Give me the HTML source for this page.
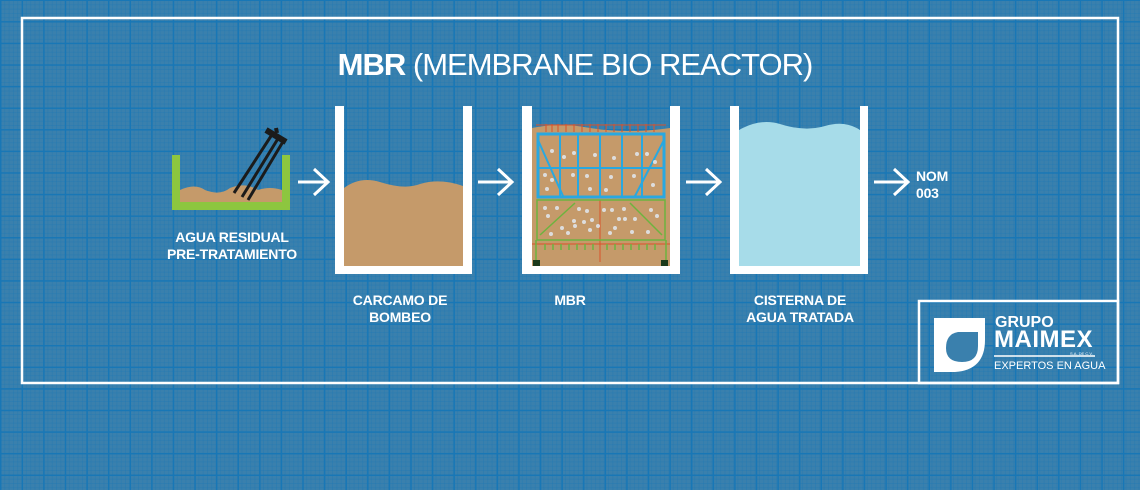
<!DOCTYPE html>
<html><head><meta charset="utf-8"><style>
body{margin:0}
#c{width:1140px;height:490px;position:relative;overflow:hidden;background-color:#3a80ad;
background-image:linear-gradient(#1877b6 1.5px,transparent 1.5px),linear-gradient(90deg,#1877b6 1.5px,transparent 1.5px),linear-gradient(rgba(30,120,180,.35) 1px,transparent 1px),linear-gradient(90deg,rgba(30,120,180,.35) 1px,transparent 1px);
background-size:21.6px 21.6px,21.6px 21.6px,4.32px 4.32px,4.32px 4.32px;background-position:0 -0.5px,0 0,0 0,0 0;
font-family:"Liberation Sans",sans-serif;color:#fff}
.t{position:absolute;font-weight:bold;font-size:14px;text-align:center;line-height:17px;letter-spacing:-0.2px}
</style></head><body><div id="c">
<svg width="1140" height="490" style="position:absolute;left:0;top:0">
<rect x="22" y="18" width="1096" height="365" fill="none" stroke="#fff" stroke-width="2.5"/>
<rect x="919" y="301" width="199" height="82" fill="none" stroke="#fff" stroke-width="2.5"/>
<path d="M180 190 Q195 183 205 190 Q220 196 230 188 Q245 182 258 190 Q270 186 282 190 L282 202 L180 202Z" fill="#c59a6a"/>
<path d="M172 155 H180 V202 H282 V155 H290 V210 H172Z" fill="#8dc63f"/>
<g stroke="#1b1b1b" stroke-width="3"><line x1="273" y1="133" x2="234" y2="193"/><line x1="279" y1="137" x2="242" y2="197"/><line x1="284" y1="140" x2="248" y2="200"/><line x1="266" y1="130" x2="286" y2="142" stroke-width="6"/><line x1="276" y1="128" x2="277" y2="133" stroke-width="4"/></g>
<path d="M344 188 Q360 176 380 182 Q405 190 420 184 Q440 178 463 186 V266 H344Z" fill="#c59a6a"/>
<path d="M335 106 H344 V266 H463 V106 H472 V274 H335Z" fill="#fff"/>
<path d="M532 128 Q560 122 590 128 Q630 134 670 128 V266 H532Z" fill="#c59a6a"/>
<g stroke="#d9532a" stroke-width="1"><line x1="536" y1="125" x2="666" y2="125"/><line x1="532" y1="244" x2="670" y2="244"/><line x1="600" y1="200" x2="600" y2="262"/></g>
<g stroke="#d9532a"><path d="M546 124v8M552 124v8M558 124v8M566 124v8M574 124v8M582 124v8M590 124v8M598 124v8M606 124v8M614 124v8M622 124v8M630 124v8M638 124v8M646 124v8M654 124v8"/></g>
<g fill="none" stroke="#29a8e0" stroke-width="2"><rect x="538" y="134" width="126" height="63" stroke-width="3"/><line x1="538" y1="168" x2="664" y2="168"/><path d="M560 134v63M578 134v63M600 134v63M622 134v63M642 134v63"/><path d="M538 140 L563 196M664 140 L635 196"/></g>
<g fill="none" stroke="#6db33f" stroke-width="1.5"><rect x="537" y="200" width="128" height="40"/><path d="M540 235 L575 203M662 235 L630 203"/><path d="M536 240v26M666 240v26"/><path d="M545 244v6M553 244v6M561 244v6M569 244v6M577 244v6M585 244v6M593 244v6M607 244v6M615 244v6M623 244v6M631 244v6M639 244v6M647 244v6M655 244v6"/></g>
<g fill="#ddd"><circle cx="552" cy="151" r="2"/><circle cx="564" cy="157" r="2"/><circle cx="574" cy="153" r="2"/><circle cx="595" cy="155" r="2"/><circle cx="614" cy="158" r="2"/><circle cx="637" cy="154" r="2"/><circle cx="647" cy="154" r="2"/><circle cx="655" cy="162" r="2"/><circle cx="545" cy="175" r="2"/><circle cx="552" cy="180" r="2"/><circle cx="573" cy="175" r="2"/><circle cx="587" cy="176" r="2"/><circle cx="611" cy="177" r="2"/><circle cx="634" cy="176" r="2"/><circle cx="547" cy="189" r="2"/><circle cx="590" cy="189" r="2"/><circle cx="606" cy="190" r="2"/><circle cx="653" cy="185" r="2"/><circle cx="545" cy="208" r="2"/><circle cx="557" cy="208" r="2"/><circle cx="579" cy="209" r="2"/><circle cx="587" cy="211" r="2"/><circle cx="604" cy="210" r="2"/><circle cx="612" cy="210" r="2"/><circle cx="624" cy="209" r="2"/><circle cx="651" cy="210" r="2"/><circle cx="548" cy="216" r="2"/><circle cx="574" cy="221" r="2"/><circle cx="584" cy="222" r="2"/><circle cx="592" cy="220" r="2"/><circle cx="619" cy="219" r="2"/><circle cx="625" cy="219" r="2"/><circle cx="635" cy="219" r="2"/><circle cx="657" cy="216" r="2"/><circle cx="562" cy="228" r="2"/><circle cx="575" cy="226" r="2"/><circle cx="598" cy="226" r="2"/><circle cx="615" cy="228" r="2"/><circle cx="551" cy="234" r="2"/><circle cx="568" cy="233" r="2"/><circle cx="590" cy="230" r="2"/><circle cx="610" cy="233" r="2"/><circle cx="632" cy="232" r="2"/><circle cx="648" cy="232" r="2"/></g>
<rect x="533" y="260" width="7" height="6" fill="#1b3a1b"/><rect x="661" y="260" width="7" height="6" fill="#1b3a1b"/>
<path d="M522 106 H532 V266 H670 V106 H680 V274 H522Z" fill="#fff"/>
<path d="M739 130 Q760 118 780 124 Q805 132 825 126 Q845 120 860 130 V266 H739Z" fill="#a7dce9"/>
<path d="M730 106 H739 V266 H860 V106 H868 V274 H730Z" fill="#fff"/>
<g fill="none" stroke="#fff" stroke-width="3"><path d="M298 182H327M314 169L328 182L314 195"/><path d="M478 182H511M498 169L512 182L498 195"/><path d="M686 182H719M706 169L720 182L706 195"/><path d="M874 182H907M894 169L908 182L894 195"/></g>
<path d="M934 318 H985 V340 Q985 370 955 372 H934Z" fill="#fff"/>
<path d="M958 332 H978 V346 Q978 362 962 362 Q946 362 946 348 Q946 334 958 332Z" fill="#3a80ad"/>
<line x1="994" y1="356" x2="1095" y2="356" stroke="#fff" stroke-width="1.5"/>
</svg>
<div style="position:absolute;left:0;width:1150px;top:47px;text-align:center;font-size:31px;letter-spacing:-1px"><b>MBR</b> (MEMBRANE BIO REACTOR)</div>
<div class="t" style="left:152px;width:160px;top:229px">AGUA RESIDUAL<br>PRE-TRATAMIENTO</div>
<div class="t" style="left:320px;width:160px;top:292px">CARCAMO DE<br>BOMBEO</div>
<div class="t" style="left:520px;width:100px;top:292px">MBR</div>
<div class="t" style="left:720px;width:160px;top:292px">CISTERNA DE<br>AGUA TRATADA</div>
<div class="t" style="left:916px;top:168px;text-align:left">NOM<br>003</div>
<div style="position:absolute;left:995px;top:315px;font-weight:bold;font-size:16px;line-height:16px">GRUPO</div>
<div style="position:absolute;left:994px;top:328px;font-weight:bold;font-size:24px;line-height:24px;letter-spacing:0.5px">MAIMEX</div>
<div style="position:absolute;left:1070px;top:351px;font-size:4px">S.A. DE C.V.</div>
<div style="position:absolute;left:994px;top:360px;font-size:11px">EXPERTOS EN AGUA</div>
</div></body></html>
